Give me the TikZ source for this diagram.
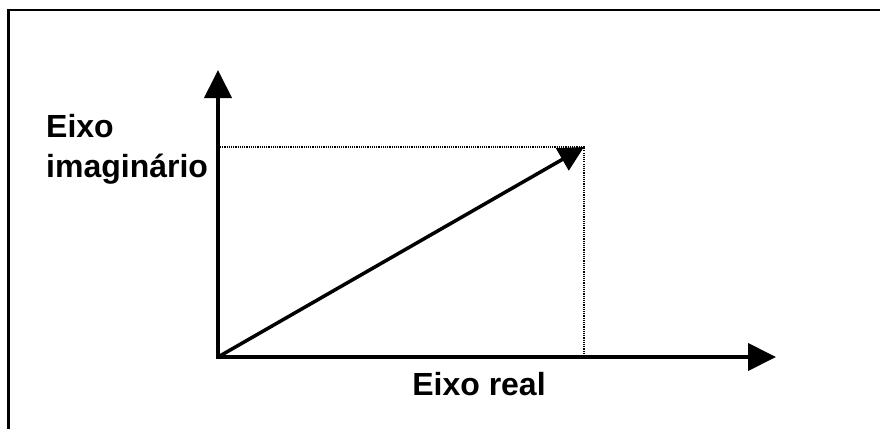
\documentclass[tikz,border=0pt]{standalone}
\usepackage{fontspec}
\setmainfont{Liberation Sans}
\usetikzlibrary{arrows.meta}
\begin{document}
\begin{tikzpicture}[x=1pt,y=-1pt,
  axis/.style={line width=4pt,-{Triangle[length=28pt,width=27pt]}},
  vec/.style={line width=3.5pt,-{Triangle[length=25pt,width=25pt]}},
  guide/.style={line width=1.1pt,dash pattern=on 1.1pt off 1.1pt},
  lbl/.style={font=\bfseries\fontsize{32}{40}\selectfont,inner sep=0pt}]
\useasboundingbox (0,0) rectangle (880,428);
\draw[line width=2.2pt] (8.5,430) -- (8.5,10) -- (882,10);
\coordinate (O) at (218,357);
\coordinate (Y) at (218,70);
\coordinate (X) at (776,357);
\coordinate (P) at (584,147);
\coordinate (Py) at (220,147);
\coordinate (Px) at (584,357);
\draw[guide] (Py) -- (P) -- (Px);
\draw[axis] (O) -- (Y);
\draw[axis] ([xshift=-2pt]O) -- (X);
\draw[vec] (O) -- (P);
\node[lbl,anchor=base west,align=left] (ly) at (46,177) {Eixo\\imaginário};
\node[lbl,anchor=base] (lx) at (479,395) {Eixo real};
\end{tikzpicture}
\end{document}
